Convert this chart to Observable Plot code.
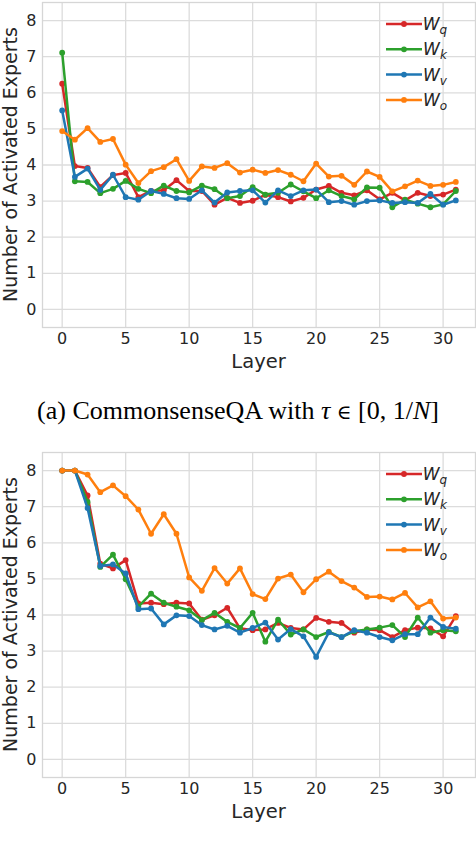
<!DOCTYPE html>
<html>
<head>
<meta charset="utf-8">
<script src="https://cdn.jsdelivr.net/npm/d3@7"></script>
<script src="https://cdn.jsdelivr.net/npm/@observablehq/plot@0.6"></script>
<style>
  body { margin: 0; background: white; }
  #wrap { position: relative; width: 476px; height: 858px; }
  #plot_a { position: absolute; left: 0; top: 0; }
  #plot_b { position: absolute; left: 0; top: 450px; }
  #caption_a { position: absolute; left: 0; width: 476px; top: 399px; text-align: center;
    font-family: "Liberation Serif", serif; font-size: 26px; line-height: 24px; color: #000; }
  #caption_a .el { font-family: "DejaVu Serif", serif; font-size: 20px; }
</style>
</head>
<body>
<div id="wrap">
  <div id="plot_a"></div>
  <div id="caption_a">(a) CommonsenseQA with <i>τ</i> <span class="el">∈</span> [0, 1/<i>N</i>]</div>
  <div id="plot_b"></div>
</div>
<script>
const layers = [0,1,2,3,4,5,6,7,8,9,10,11,12,13,14,15,16,17,18,19,20,21,22,23,24,25,26,27,28,29,30,31];
const subs = ["q", "k", "v", "o"];
const colores = ["#d62728", "#2ca02c", "#1f77b4", "#ff7f0e"];
const xTicks = [0, 5, 10, 15, 20, 25, 30];
const yTicks = [0, 1, 2, 3, 4, 5, 6, 7, 8];

// (a) CommonsenseQA, tau in [0, 1/N]
const wqA = [6.25,3.97,3.92,3.39,3.72,3.78,3.11,3.28,3.30,3.58,3.28,3.28,2.90,3.09,2.95,3.01,3.17,3.11,2.99,3.09,3.32,3.42,3.23,3.16,3.30,3.05,3.23,3.02,3.23,3.14,3.18,3.32];
const wkA = [7.11,3.55,3.53,3.22,3.34,3.56,3.34,3.22,3.43,3.28,3.24,3.43,3.33,3.08,3.14,3.39,3.18,3.23,3.46,3.27,3.08,3.30,3.14,3.05,3.38,3.37,2.83,3.04,2.93,2.83,2.91,3.28];
const wvA = [5.51,3.67,3.90,3.31,3.73,3.11,3.04,3.28,3.20,3.08,3.06,3.30,2.96,3.24,3.28,3.30,2.96,3.30,3.14,3.30,3.32,2.97,3.00,2.90,3.00,3.02,2.95,2.97,2.95,3.20,2.90,3.02];
const woA = [4.94,4.70,5.02,4.64,4.72,4.01,3.50,3.83,3.94,4.16,3.56,3.96,3.92,4.05,3.79,3.87,3.78,3.86,3.73,3.55,4.04,3.68,3.70,3.45,3.82,3.67,3.27,3.41,3.57,3.42,3.45,3.53];

// (b)
const wqB = [8.00,8.00,7.31,5.42,5.29,5.52,4.32,4.34,4.30,4.34,4.32,3.87,3.99,4.20,3.63,3.58,3.60,3.78,3.64,3.60,3.92,3.81,3.78,3.51,3.60,3.58,3.39,3.58,3.65,3.63,3.41,3.97];
const wkB = [8.00,8.00,7.13,5.33,5.67,4.99,4.23,4.59,4.34,4.23,4.13,3.86,4.06,3.81,3.64,4.06,3.26,3.87,3.46,3.60,3.39,3.53,3.39,3.55,3.60,3.65,3.72,3.39,3.93,3.51,3.58,3.55];
const wvB = [8.00,8.00,6.96,5.36,5.40,5.15,4.16,4.18,3.74,3.99,3.97,3.72,3.60,3.70,3.51,3.64,3.79,3.32,3.61,3.41,2.84,3.52,3.39,3.58,3.51,3.39,3.30,3.47,3.47,3.93,3.67,3.62];
const woB = [8.00,8.00,7.89,7.40,7.59,7.29,6.92,6.25,6.79,6.25,5.04,4.67,5.30,4.87,5.29,4.58,4.44,5.01,5.12,4.63,4.99,5.20,4.94,4.76,4.50,4.51,4.43,4.61,4.21,4.38,3.90,3.93];

const ancho = 476;
const alto = 375;
const marginUp = 2;
const marginR = 1;
const marginDown = 48;
const marginL = 42;

function grafico(valores) {
  const filas = valores.flatMap((serie, s) =>
    serie.map((v, i) => ({layer: layers[i], value: v, serie: subs[s]})));

  const marcas = subs.flatMap(s => {
    const d = filas.filter(f => f.serie === s);
    return [
      Plot.line(d, {x: "layer", y: "value", stroke: "serie", strokeWidth: 2.5}),
      Plot.dot(d, {x: "layer", y: "value", fill: "serie", r: 2.9})
    ];
  });

  const svg = Plot.plot({
    width: ancho,
    height: alto,
    marginTop: marginUp,
    marginRight: marginR,
    marginBottom: marginDown,
    marginLeft: marginL,
    style: {fontFamily: "DejaVu Sans", color: "#262626", background: "white"},
    x: {domain: [-1.55, 32.55]},
    y: {domain: [-0.5, 8.5]},
    color: {domain: subs, range: colores},
    marks: [
      Plot.gridX(xTicks, {stroke: "#dcdcdc", strokeOpacity: 1, strokeWidth: 1.3}),
      Plot.gridY(yTicks, {stroke: "#dcdcdc", strokeOpacity: 1, strokeWidth: 1.3}),
      Plot.frame({stroke: "#d6d6d6", strokeWidth: 1.3}),
      Plot.axisX(xTicks, {tickSize: 0, tickPadding: 5, label: null}),
      Plot.axisY(yTicks, {tickSize: 0, tickPadding: 6, label: null}),
      ...marcas
    ]
  });

  const s = d3.select(svg);
  s.selectAll('g[aria-label="x-axis tick label"], g[aria-label="y-axis tick label"]')
    .attr("font-size", 16).attr("font-family", "DejaVu Sans");

  const fondo = alto - marginDown;
  // titulos de los ejes
  s.append("text").attr("x", (marginL + ancho - marginR) / 2).attr("y", fondo + 41)
    .attr("text-anchor", "middle").attr("font-family", "DejaVu Sans").attr("font-size", 19.5)
    .attr("fill", "#262626").text("Layer");
  s.append("text").attr("transform", `translate(17,${(marginUp + fondo) / 2}) rotate(-90)`)
    .attr("text-anchor", "middle").attr("font-family", "DejaVu Sans").attr("font-size", 19)
    .attr("fill", "#262626").text("Number of Activated Experts");

  // leyenda dentro del grafico, arriba a la derecha
  const ley = s.append("g");
  subs.forEach((sub, i) => {
    const y = marginUp + 22 + i * 25.3;
    ley.append("line").attr("x1", 386).attr("x2", 422).attr("y1", y).attr("y2", y)
      .attr("stroke", colores[i]).attr("stroke-width", 2.5);
    ley.append("circle").attr("cx", 404).attr("cy", y).attr("r", 2.9).attr("fill", colores[i]);
    const t = ley.append("text").attr("x", 435).attr("y", y + 6)
      .attr("font-family", "DejaVu Sans").attr("font-style", "italic")
      .attr("font-size", 17).attr("fill", "#262626").text("W");
    t.append("tspan").attr("font-size", 12).attr("dy", 4).text(sub);
  });

  return svg;
}

document.querySelector("#plot_a").appendChild(grafico([wqA, wkA, wvA, woA]));
document.querySelector("#plot_b").appendChild(grafico([wqB, wkB, wvB, woB]));
</script>
</body>
</html>
